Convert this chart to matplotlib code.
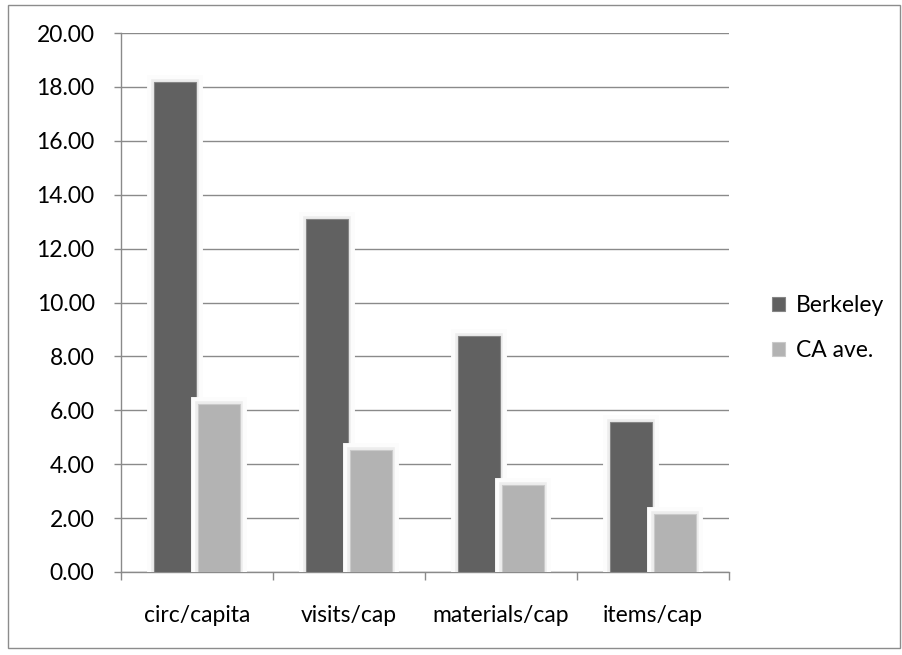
import matplotlib
matplotlib.use("Agg")
import matplotlib.pyplot as plt
import matplotlib.patheffects as pe
from matplotlib.patches import Rectangle
import numpy as np

categories = ["circ/capita", "visits/cap", "materials/cap", "items/cap"]
berkeley = [18.18, 13.10, 8.76, 5.55]
ca_ave = [6.23, 4.53, 3.23, 2.15]
series_names = ["Berkeley", "CA ave."]
yticks = [0, 2, 4, 6, 8, 10, 12, 14, 16, 18, 20]

plt.rcParams["font.family"] = ["Lato", "DejaVu Sans"]
fs = 16.5

fig = plt.figure(figsize=(9.02, 6.55), dpi=100)
fig.patch.set_facecolor("white")
# outer chart border
fig.add_artist(Rectangle((8 / 902, 7 / 655), 892 / 902, 643 / 655, transform=fig.transFigure,
                         fill=False, edgecolor="#8c8c8c", linewidth=1.0))

ax = fig.add_axes([121 / 902, 1 - 572 / 655, (729 - 121) / 902, (572 - 33) / 655])
x = np.arange(len(categories))
w = 0.275
glow = [pe.Stroke(linewidth=10, foreground="#fcfcfc"),
        pe.Stroke(linewidth=4, foreground="#ededed"),
        pe.Normal()]
b1 = ax.bar(x - w / 2 - 0.006, berkeley, w, color="#616161", edgecolor="#858585",
            linewidth=0.8, zorder=3, label=series_names[0])
b2 = ax.bar(x + w / 2 + 0.006, ca_ave, w, color="#b3b3b3", edgecolor="#cacaca",
            linewidth=0.8, zorder=3, label=series_names[1])
for p in list(b1) + list(b2):
    p.set_path_effects(glow)

ax.set_xlim(-0.5, len(categories) - 0.5)
ax.set_ylim(0, 20)
ax.set_yticks(yticks)
ax.set_yticklabels([f"{v:.2f}" for v in yticks], fontsize=fs)
ax.yaxis.grid(True, color="#8a8a8a", linewidth=1.0, zorder=0)
ax.set_axisbelow(True)

ax.set_xticks(x)
ax.set_xticklabels(categories, fontsize=fs)
ax.tick_params(axis="x", length=0, pad=24)
ax.set_xticks(np.arange(-0.5, len(categories)), minor=True)
ax.tick_params(axis="x", which="minor", length=6, color="#8a8a8a", width=1)
ax.tick_params(axis="y", length=5, color="#8a8a8a", width=1, pad=14)

for s in ["top", "right"]:
    ax.spines[s].set_visible(False)
for s in ["left", "bottom"]:
    ax.spines[s].set_color("#8a8a8a")
    ax.spines[s].set_linewidth(1.0)

leg = fig.legend(handles=[b1, b2], labels=series_names, loc="upper left",
                 bbox_to_anchor=(772 / 902, 1 - 295 / 655), frameon=False, fontsize=fs,
                 borderpad=0, borderaxespad=0,
                 handlelength=0.55, handleheight=0.55, handletextpad=0.5, labelspacing=1.05)
for h in leg.legend_handles:
    h.set_path_effects([])

fig.savefig("out.png", dpi=100, facecolor="white")
